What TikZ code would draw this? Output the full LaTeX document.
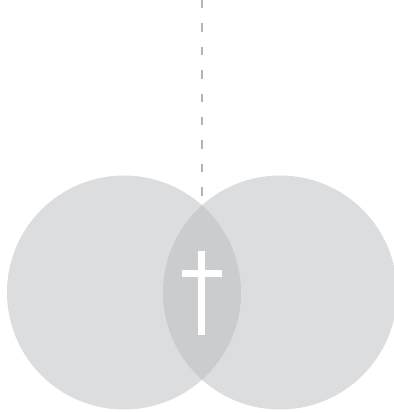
\documentclass[tikz,border=0pt]{standalone}
\begin{document}
\begin{tikzpicture}[x=1pt,y=1pt,
  disc/.style={fill=circgray},
  guide/.style={draw=dashgray, line width=2pt, dash pattern=on 8.5pt off 14.9pt},
  crossbar/.style={fill=white}]
\definecolor{circgray}{HTML}{DCDDDF}
\definecolor{lensgray}{HTML}{CBCCCE}
\definecolor{dashgray}{HTML}{B4B4B6}
\useasboundingbox (0,0) rectangle (394,413);
\coordinate (cl) at (124,120.5);
\coordinate (cr) at (280,120.5);
\fill[disc] (cl) circle (117);
\fill[disc] (cr) circle (117);
\begin{scope}
  \clip (cl) circle (117);
  \fill[lensgray] (cr) circle (117);
\end{scope}
\coordinate (top) at (202,413);
\coordinate (lenstop) at (202,217);
\draw[guide] (top) -- (lenstop);
\fill[crossbar] (198.3,78.3) rectangle (205.3,162.3);
\fill[crossbar] (181.7,136) rectangle (222,143.2);
\end{tikzpicture}
\end{document}
